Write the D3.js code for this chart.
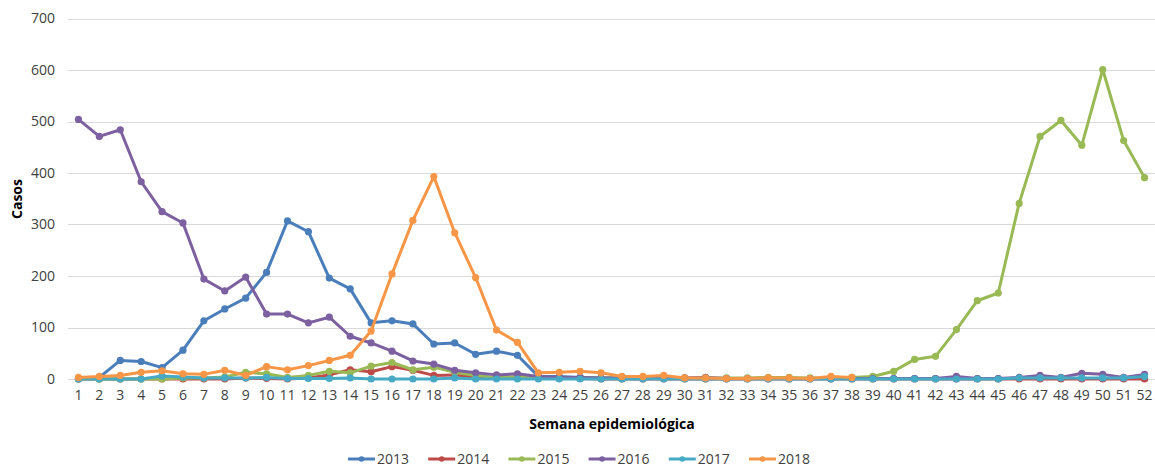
<!DOCTYPE html>
<html>
<head>
<meta charset="utf-8">
<script src="https://cdn.jsdelivr.net/npm/d3@7"></script>
<style>
  body { margin: 0; background: #fff; }
  text { font-family: "Open Sans", "Noto Sans", sans-serif; fill: #404040; }
</style>
</head>
<body>
<div id="chart"></div>
<script>
var weeks = d3.range(1, 53);
var years = ["2013", "2014", "2015", "2016", "2017", "2018"];
var colors = ["#4a7ebb", "#be4b48", "#98b954", "#7d60a0", "#46aac5", "#f79646"];
var yTicks = [0, 100, 200, 300, 400, 500, 600, 700];

var s2013 = [0,3,36,34,22,56,113,136,157,207,307,286,196,175,109,113,107,68,70,48,54,46,5,5,3,2,2,2,2,1,1,1,1,1,1,1,1,1,1,1,1,1,1,1,1,1,1,1,1,1,1,1];
var s2014 = [0,0,0,0,0,0,0,0,2,1,0,2,8,18,14,24,17,7,8,3,2,3,1,1,1,0,0,0,0,0,0,0,0,0,0,0,0,0,0,0,0,0,0,0,0,0,0,0,0,0,0,0];
var s2015 = [0,0,0,0,0,2,2,4,13,10,3,7,15,12,25,32,18,23,13,7,3,5,3,2,2,2,2,2,2,2,2,2,2,3,3,2,2,3,5,15,38,44,96,152,167,341,471,502,454,601,463,391];
var s2016 = [504,471,484,383,325,303,194,171,198,126,126,109,120,83,70,54,35,29,17,12,8,10,5,3,3,2,2,2,2,2,3,1,1,1,1,1,1,1,1,1,1,1,5,1,1,3,7,3,11,9,3,9];
var s2017 = [0,0,0,0,6,4,2,2,2,3,1,1,1,2,0,0,0,0,2,0,0,0,0,0,0,0,0,0,0,0,0,0,0,0,0,0,0,0,0,0,0,0,0,0,0,2,2,2,2,2,2,5];
var s2018 = [3,5,7,13,16,10,9,17,7,24,18,26,36,46,93,204,308,393,284,197,95,71,12,13,15,12,5,5,7,2,2,1,1,2,2,1,5,3];

var seriesValues = [s2013, s2014, s2015, s2016, s2017, s2018];

var width = 1155, height = 469;
var margin = { left: 68, right: 0, top: 18.5, bottom: 90 };

var svg = d3.select("#chart").append("svg")
    .attr("width", width)
    .attr("height", height);

var x = d3.scaleBand()
    .domain(weeks)
    .range([margin.left, width - margin.right])
    .padding(0);

var y = d3.scaleLinear()
    .domain([0, 700])
    .range([379, margin.top]);

var cx = function (w) { return x(w) + x.bandwidth() / 2; };

// grid
svg.append("g").selectAll("line")
    .data(yTicks)
    .enter().append("line")
    .attr("x1", margin.left)
    .attr("x2", width)
    .attr("y1", function (d) { return Math.round(y(d)) + 0.5; })
    .attr("y2", function (d) { return Math.round(y(d)) + 0.5; })
    .attr("stroke", "#d9d9d9")
    .attr("stroke-width", 1);

// y axis
var yAxis = svg.append("g")
    .attr("transform", "translate(" + margin.left + ",0)")
    .call(d3.axisLeft(y).tickValues(yTicks).tickSize(0).tickPadding(13))
    .call(function (g) { g.select(".domain").remove(); });
yAxis.selectAll("text").style("font-size", "14px").style("fill", "#404040")
    .style("font-family", "'Open Sans', sans-serif");

// x axis
var xAxis = svg.append("g")
    .attr("transform", "translate(0," + y(0) + ")")
    .call(d3.axisBottom(x).tickSize(0).tickPadding(11))
    .call(function (g) { g.select(".domain").remove(); });
xAxis.selectAll("text").style("font-size", "14px").style("fill", "#404040")
    .style("font-family", "'Open Sans', sans-serif");

// titles
svg.append("text")
    .attr("transform", "translate(22,199) rotate(-90)")
    .attr("text-anchor", "middle")
    .style("font-size", "14px")
    .style("font-weight", "bold")
    .style("fill", "#000")
    .text("Casos");

svg.append("text")
    .attr("x", 612)
    .attr("y", 429)
    .attr("text-anchor", "middle")
    .style("font-size", "14px")
    .style("font-weight", "bold")
    .style("fill", "#000")
    .text("Semana epidemiológica");

// series
var line = d3.line()
    .defined(function (d) { return d != null; })
    .x(function (d, i) { return cx(weeks[i]); })
    .y(function (d) { return y(d); });

seriesValues.forEach(function (vals, si) {
    var g = svg.append("g").attr("class", "series s" + years[si]);
    g.append("path")
        .datum(vals)
        .attr("fill", "none")
        .attr("stroke", colors[si])
        .attr("stroke-width", 3)
        .attr("stroke-linejoin", "round")
        .attr("d", line);
    g.selectAll("circle")
        .data(vals)
        .enter().append("circle")
        .attr("cx", function (d, i) { return cx(weeks[i]); })
        .attr("cy", function (d) { return y(d); })
        .attr("r", 3.6)
        .attr("fill", colors[si]);
});

// legend
var legend = svg.append("g").attr("transform", "translate(348,459)");
var items = legend.selectAll("g")
    .data(years)
    .enter().append("g")
    .attr("transform", function (d, i) { return "translate(" + (i * 80.2) + ",0)"; });
items.append("line")
    .attr("x1", 0).attr("x2", 27)
    .attr("y1", 0).attr("y2", 0)
    .attr("stroke", function (d, i) { return colors[i]; })
    .attr("stroke-width", 3);
items.append("circle")
    .attr("cx", 13.5).attr("cy", 0).attr("r", 2.8)
    .attr("fill", function (d, i) { return colors[i]; });
items.append("text")
    .attr("x", 29)
    .attr("y", 0)
    .attr("dy", "0.35em")
    .style("font-size", "14px")
    .style("fill", "#404040")
    .text(function (d) { return d; });
</script>
</body>
</html>
